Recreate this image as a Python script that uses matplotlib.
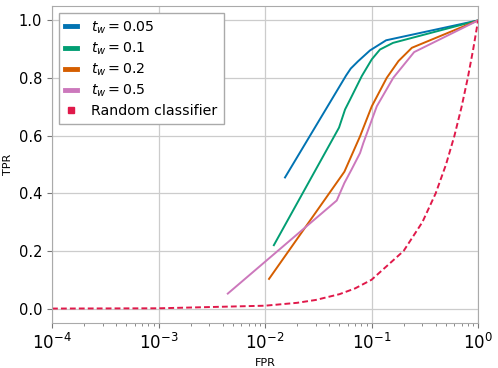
import matplotlib
matplotlib.use("Agg")
import matplotlib.pyplot as plt
from matplotlib.lines import Line2D

# ROC curves (FPR on log axis)
fpr_005 = [0.0154, 0.0577, 0.0638, 0.0746, 0.0968, 0.137, 1.0]
tpr_005 = [0.455, 0.809, 0.833, 0.858, 0.896, 0.931, 1.0]

fpr_01 = [0.0121, 0.0495, 0.0564, 0.063, 0.081, 0.1005, 0.12, 0.159, 1.0]
tpr_01 = [0.22, 0.628, 0.691, 0.726, 0.807, 0.865, 0.899, 0.922, 1.0]

fpr_02 = [0.0109, 0.0556, 0.078, 0.1005, 0.139, 0.179, 0.239, 1.0]
tpr_02 = [0.103, 0.475, 0.598, 0.702, 0.801, 0.859, 0.905, 1.0]

fpr_05 = [0.00447, 0.0471, 0.0556, 0.065, 0.078, 0.0838, 0.112, 0.160, 0.251, 1.0]
tpr_05 = [0.052, 0.375, 0.436, 0.483, 0.54, 0.575, 0.702, 0.801, 0.89, 1.0]

rand_x = [1e-4, 1e-3, 0.01, 0.02, 0.03, 0.05, 0.07, 0.1, 0.2, 0.3, 0.4, 0.5, 0.6, 0.7, 0.8, 0.9, 1.0]
rand_y = rand_x

labels = [r"$t_w = 0.05$", r"$t_w = 0.1$", r"$t_w = 0.2$", r"$t_w = 0.5$"]
colors = ["#0173b2", "#029e73", "#d55e00", "#cc78bc"]
rand_color = "#e0194a"

fig = plt.figure(figsize=(4.98, 3.68), dpi=100)
ax = fig.add_axes([0.1044, 0.1223, 0.8556, 0.8614])

curves = [(fpr_005, tpr_005), (fpr_01, tpr_01), (fpr_02, tpr_02), (fpr_05, tpr_05)]
for (x, y), c in zip(curves, colors):
    ax.plot(x, y, color=c, lw=1.4)
ax.plot(rand_x, rand_y, color=rand_color, lw=1.4, ls="--", dashes=(3, 1.6))

ax.set_xscale("log")
ax.set_xlim(1e-4, 1)
ax.set_ylim(-0.05, 1.05)
ax.set_yticks([0.0, 0.2, 0.4, 0.6, 0.8, 1.0])
ax.grid(True, color="#cccccc", lw=0.9)
ax.set_axisbelow(True)
for s in ax.spines.values():
    s.set_color("#aaaaaa")
ax.tick_params(which="both", color="#777777")
ax.tick_params(axis="x", labelsize=12)
ax.tick_params(axis="y", labelsize=10.5)
ax.set_xlabel("FPR", fontsize=8)
ax.set_ylabel("TPR", fontsize=8)

handles = [Line2D([], [], color=c, lw=3.5) for c in colors]
handles.append(Line2D([], [], color=rand_color, marker="s", ls="none", markersize=4))
leg = ax.legend(handles, labels + ["Random classifier"], loc="upper left",
                fontsize=10.2, handlelength=0.8, handletextpad=1.0, fancybox=False,
                edgecolor="#aaaaaa", framealpha=1, borderpad=0.45, labelspacing=0.33,
                borderaxespad=0.5)

fig.savefig("out.png", dpi=100)
